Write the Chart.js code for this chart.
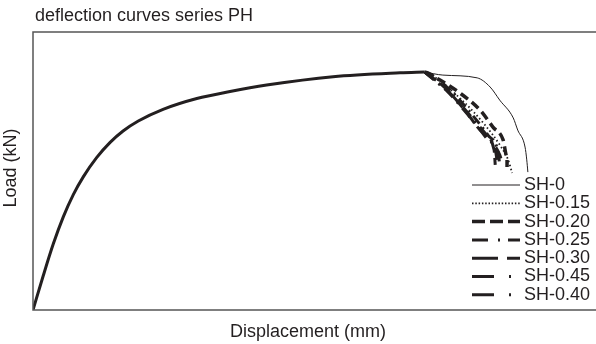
<!DOCTYPE html>
<html>
<head>
<meta charset="utf-8">
<script src="https://cdn.jsdelivr.net/npm/chart.js@4/dist/chart.umd.min.js"></script>
<style>
html,body{margin:0;padding:0;background:#fff;}
canvas{display:block;}
</style>
</head>
<body>
<canvas id="c" width="596" height="344"></canvas>
<script>
// ---- data (displacement / load, relative units) ----
const chartTitle = "deflection curves series PH";
const xTitle = "Displacement (mm)";
const yTitle = "Load (kN)";
const seriesNames = ["SH-0", "SH-0.15", "SH-0.20", "SH-0.25", "SH-0.30", "SH-0.45", "SH-0.40"];

// common rising branch (all series coincide)
const riseX = [0, 1.83, 3.61, 5.38, 7.16, 8.93, 11.3, 13.7, 16.0, 18.7, 23.1, 29.1, 35.0, 41.5, 53.3, 65.2, 69.6];
const riseY = [0, 12.4, 23.8, 33.5, 41.5, 47.9, 54.8, 60.3, 64.4, 68.0, 72.2, 76.1, 78.6, 80.9, 83.9, 85.3, 85.6];

// descending branches, per series
const sh0X   = [69.6, 72.8, 78.9, 81.2, 82.9, 85.3, 86.1, 87.4, 87.7, 87.9];
const sh0Y   = [85.6, 84.5, 83.5, 80.2, 75.5, 69.1, 64.7, 58.6, 54.0, 49.6];
const sh015X = [69.6, 70.5, 76.2, 80.3, 82.9, 84.4, 85.1];
const sh015Y = [85.6, 84.9, 75.5, 66.5, 59.4, 54.0, 49.3];
const sh020X = [69.6, 72.3, 75.8, 79.4, 81.7, 83.5, 84.2, 84.2];
const sh020Y = [85.6, 82.7, 78.1, 71.9, 65.8, 61.2, 55.0, 51.4];
const sh025X = [69.6, 70.2, 74.1, 77.6, 80.8, 82.6, 82.9];
const sh025Y = [85.6, 85.3, 79.1, 71.2, 62.9, 56.8, 52.2];
const sh030X = [69.6, 73.2, 76.7, 79.8, 81.9, 82.1];
const sh030Y = [85.6, 79.9, 71.9, 64.0, 57.6, 52.2];
const sh045X = [69.6, 74.4, 78.0, 81.2, 82.9, 83.3];
const sh045Y = [85.6, 77.3, 69.1, 61.2, 55.8, 53.2];
const sh040X = [69.6, 73.7, 77.3, 80.5, 82.2, 82.4];
const sh040Y = [85.6, 78.4, 70.1, 61.9, 56.8, 54.0];

const tailsX = [sh0X, sh015X, sh020X, sh025X, sh030X, sh045X, sh040X];
const tailsY = [sh0Y, sh015Y, sh020Y, sh025Y, sh030Y, sh045Y, sh040Y];

// ---- styles ----
const ink = '#231f20';
const lineWidths = [1, 1.8, 3.5, 3, 3, 3, 3];
const curveDash = [[], [1.5, 2.5], [9, 5], [10, 5, 2, 5], [14, 5], [12, 6, 2, 6], [12, 6, 2, 6]];
const legendDash = [[], [1.5, 1.8], [13, 5], [16, 10, 2, 8], [26, 9], [22, 15, 2, 30], [22, 15, 2, 30]];

function pts(xs, ys){ return xs.map((x,i)=>({x:x, y:ys[i]})); }

const datasets = [{
  label: 'rise',
  data: pts(riseX, riseY),
  borderColor: ink, borderWidth: 3, cubicInterpolationMode: 'monotone',
  pointRadius: 0, showLine: true, fill: false
}];
seriesNames.forEach((n,i)=>{
  datasets.push({
    label: n,
    data: pts(tailsX[i], tailsY[i]),
    borderColor: ink, borderWidth: lineWidths[i], borderDash: curveDash[i],
    cubicInterpolationMode: 'monotone', pointRadius: 0, showLine: true, fill: false
  });
});

const FONT = '18px "Liberation Sans", Arial, Helvetica, sans-serif';

const decor = {
  id: 'decor',
  afterDraw(chart){
    const ctx = chart.ctx, a = chart.chartArea;
    ctx.save();
    // frame: top, left, bottom
    ctx.strokeStyle = '#555'; ctx.lineWidth = 1.5; ctx.setLineDash([]);
    ctx.beginPath();
    ctx.moveTo(596, a.top); ctx.lineTo(a.left, a.top); ctx.lineTo(a.left, a.bottom); ctx.lineTo(596, a.bottom);
    ctx.stroke();
    // texts
    ctx.fillStyle = ink; ctx.font = FONT; ctx.textBaseline = 'middle';
    ctx.textAlign = 'left';
    ctx.fillText(chartTitle, 35, 16);
    ctx.textAlign = 'center';
    ctx.fillText(xTitle, 308, 332);
    ctx.save();
    ctx.translate(11, 168); ctx.rotate(-Math.PI/2);
    ctx.fillText(yTitle, 0, 0);
    ctx.restore();
    // legend
    ctx.textAlign = 'left';
    seriesNames.forEach((n,i)=>{
      const y = 185 + i*18.3;
      ctx.strokeStyle = ink; ctx.lineWidth = lineWidths[i];
      ctx.setLineDash(legendDash[i]);
      ctx.beginPath(); ctx.moveTo(472, y); ctx.lineTo(520, y); ctx.stroke();
      ctx.setLineDash([]);
      ctx.fillText(n, 524, y);
    });
    ctx.restore();
  }
};

new Chart(document.getElementById('c'), {
  type: 'scatter',
  data: { datasets },
  options: {
    responsive: false, animation: false,
    layout: { padding: { left: 33, top: 32, right: 0, bottom: 34 } },
    plugins: { legend: { display: false }, title: { display: false }, tooltip: { enabled: false } },
    scales: {
      x: { type: 'linear', min: 0, max: 100, display: false },
      y: { type: 'linear', min: 0, max: 100, display: false }
    }
  },
  plugins: [decor]
});
</script>
</body>
</html>
